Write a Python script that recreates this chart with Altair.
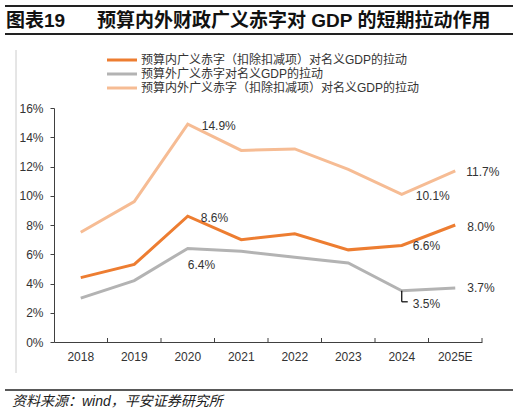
import altair as alt
import pandas as pd

# ---- data -------------------------------------------------------------
years = ["2018", "2019", "2020", "2021", "2022", "2023", "2024", "2025E"]

series_names = [
    "预算内广义赤字（扣除扣减项）对名义GDP的拉动",
    "预算外广义赤字对名义GDP的拉动",
    "预算内外广义赤字（扣除扣减项）对名义GDP的拉动",
]
inner_deficit = [4.4, 5.3, 8.6, 7.0, 7.4, 6.3, 6.6, 8.0]
outer_deficit = [3.0, 4.2, 6.4, 6.2, 5.8, 5.4, 3.5, 3.7]
total_deficit = [7.5, 9.6, 14.9, 13.1, 13.2, 11.8, 10.1, 11.7]

y_ticks = [0, 2, 4, 6, 8, 10, 12, 14, 16]

# points that carry a value label: (series index, year)
labelled = [(2, "2020"), (0, "2020"), (1, "2020"),
            (2, "2024"), (0, "2024"), (1, "2024"),
            (2, "2025E"), (0, "2025E"), (1, "2025E")]

# ---- styling ----------------------------------------------------------
colors = ["#ED7D31", "#B3B3B3", "#F6BC94"]
axis_col = "#404040"
txt_col = "#333333"
FONT = "Liberation Sans, Noto Sans CJK SC, sans-serif"

# label offsets (dx, dy) keyed like `labelled`
label_offsets = {
    (2, "2020"): (14, 2), (0, "2020"): (13, 2), (1, "2020"): (0, 17),
    (2, "2024"): (14, 2), (0, "2024"): (11, 1), (1, "2024"): (11, 13),
    (2, "2025E"): (11, 1), (0, "2025E"): (12, 2), (1, "2025E"): (12, 0),
}

W, H = 428, 234

rows = []
for name, vals in zip(series_names, [inner_deficit, outer_deficit, total_deficit]):
    for yr, v in zip(years, vals):
        rows.append({"series": name, "year": yr, "value": v})
df = pd.DataFrame(rows)

x_scale = alt.Scale(type="band", domain=years, paddingInner=0, paddingOuter=0)
y_scale = alt.Scale(domain=[0, 16], nice=False)
color_scale = alt.Scale(domain=series_names, range=colors)

x_axis = alt.Axis(title=None, ticks=False, tickSize=0, labelPadding=9,
                  labelFontSize=12, labelColor=txt_col, labelFont=FONT,
                  domainColor=axis_col, labelAngle=0, grid=False)
y_axis = alt.Axis(title=None, values=y_ticks, tickCount=len(y_ticks) + 1, grid=False,
                  labelExpr="datum.value + '%'", tickSize=4,
                  labelOverlap=False, labelBound=False,
                  tickColor=axis_col, domainColor=axis_col,
                  labelPadding=7, labelFontSize=12, labelColor=txt_col,
                  labelFont=FONT)


def xpos(band=0.5):
    return alt.X("year:N", sort=years, scale=x_scale, bandPosition=band, axis=x_axis)


def ypos():
    return alt.Y("value:Q", scale=y_scale, axis=y_axis)


lines = alt.Chart(df).mark_line(strokeWidth=3).encode(
    x=xpos(), y=ypos(),
    color=alt.Color("series:N", scale=color_scale, legend=None),
)

# x-axis ticks on category boundaries, pointing into the plot
years_df = pd.DataFrame({"year": years})
x_ticks = alt.Chart(years_df).mark_rule(color=axis_col, strokeWidth=1).encode(
    x=xpos(1), y=alt.value(H - 4), y2=alt.value(H),
)

df_lab = df.copy()
df_lab["label"] = df_lab["value"].map(lambda v: f"{v:.1f}%")
label_layers = []
for si, yr in labelled:
    dx, dy = label_offsets[(si, yr)]
    sub = df_lab[(df_lab["series"] == series_names[si]) & (df_lab["year"] == yr)]
    label_layers.append(
        alt.Chart(sub).mark_text(align="left", baseline="middle", dx=dx, dy=dy,
                                 fontSize=12, font=FONT, color=txt_col)
        .encode(x=xpos(), y=ypos(), text="label:N")
    )

# leader line for the 2024 outer-deficit label
lead_df = df[(df["series"] == series_names[1]) & (df["year"] == "2024")]
lead_v = alt.Chart(lead_df).mark_rule(color="#000000", strokeWidth=1.2, y2Offset=11).encode(
    x=xpos(), y=ypos(), y2="value:Q")
lead_h = alt.Chart(lead_df).mark_rule(color="#000000", strokeWidth=1.2,
                                      yOffset=11, x2Offset=6).encode(
    x=xpos(), x2="year:N", y=ypos())

one = pd.DataFrame({"k": [0]})

# legend
legend_layers = []
for i, (name, col) in enumerate(zip(series_names, colors)):
    ly = -48 + 14 * i
    legend_layers.append(alt.Chart(one).mark_rule(color=col, strokeWidth=3).encode(
        x=alt.value(53), x2=alt.value(83), y=alt.value(ly)))
    legend_layers.append(alt.Chart(one).mark_text(
        align="left", baseline="middle", fontSize=12, font=FONT, color=txt_col).encode(
        x=alt.value(87), y=alt.value(ly), text=alt.value(name)))

# heading, frame lines and source note
deco = [
    alt.Chart(one).mark_rule(color="#222222", strokeWidth=2).encode(
        x=alt.value(-49), x2=alt.value(459), y=alt.value(-102)),
    alt.Chart(one).mark_rule(color="#222222", strokeWidth=2).encode(
        x=alt.value(-49), x2=alt.value(459), y=alt.value(-74)),
    alt.Chart(one).mark_text(align="left", baseline="middle", fontSize=19,
                             fontWeight="bold", font=FONT, color="#111111").encode(
        x=alt.value(-48), y=alt.value(-87), text=alt.value("图表19")),
    alt.Chart(one).mark_text(align="left", baseline="middle", fontSize=19,
                             fontWeight="bold", font=FONT, color="#111111").encode(
        x=alt.value(43), y=alt.value(-87),
        text=alt.value("预算内外财政广义赤字对 GDP 的短期拉动作用")),
    alt.Chart(one).mark_rule(color="#cccccc", strokeWidth=1).encode(
        x=alt.value(-38), y=alt.value(-58), y2=alt.value(265)),
    alt.Chart(one).mark_rule(color="#222222", strokeWidth=1.5).encode(
        x=alt.value(-49), x2=alt.value(459), y=alt.value(282)),
    alt.Chart(one).mark_text(align="left", baseline="middle", fontSize=14,
                             fontStyle="italic", font=FONT, color="#222222").encode(
        x=alt.value(-42), y=alt.value(294), text=alt.value("资料来源：wind，平安证券研究所")),
]

chart = alt.layer(
    lines, x_ticks, lead_v, lead_h, *label_layers, *legend_layers, *deco
).properties(
    width=W, height=H,
    padding={"left": 54, "top": 108, "right": 39, "bottom": 74},
    autosize=alt.AutoSizeParams(type="none"),
    background="white",
).configure_view(stroke=None)

chart.save("out.html", embed_options={"renderer": "svg", "actions": False})
